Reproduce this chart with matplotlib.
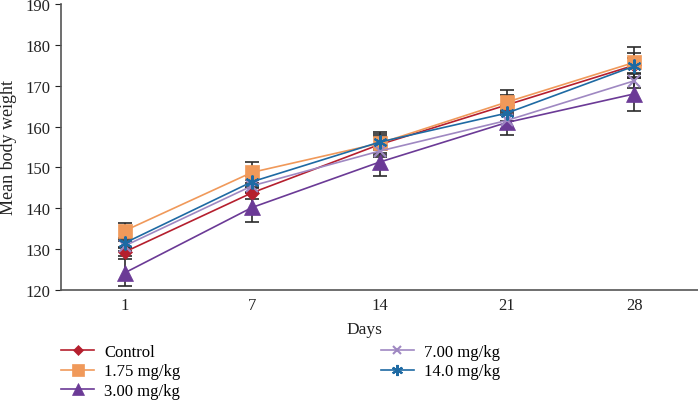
import matplotlib.pyplot as plt
import numpy as np

plt.rcParams['font.family'] = ['Liberation Serif', 'DejaVu Serif']

days = ['1', '7', '14', '21', '28']
labels = ['Control', '1.75 mg/kg', '3.00 mg/kg', '7.00 mg/kg', '14.0 mg/kg']

control = [129.3, 143.8, 155.6, 165.3, 175.0]
dose_175 = [134.5, 148.8, 155.9, 166.0, 175.7]
dose_300 = [124.2, 140.2, 151.3, 161.0, 168.0]
dose_700 = [130.8, 145.5, 154.0, 161.5, 171.2]
dose_140 = [131.5, 146.5, 156.2, 163.3, 174.8]

err_control = [1.0, 1.5, 2.0, 2.5, 3.0]
err_175 = [1.8, 2.5, 2.8, 2.9, 3.7]
err_300 = [3.3, 3.5, 3.3, 3.1, 4.2]
err_700 = [1.2, 1.5, 1.5, 2.0, 1.8]
err_140 = [1.0, 1.5, 2.0, 2.0, 2.0]

series = [control, dose_175, dose_300, dose_700, dose_140]
errors = [err_control, err_175, err_300, err_700, err_140]
colors = ['#b51f2e', '#f0995a', '#6b3a96', '#9f88c2', '#1e6aa3']
markers = ['D', 's', '^', 'x', (6, 2, 0)]
msizes = [7, 10, 11, 8, 10]

fig = plt.figure(figsize=(6.98, 4.02), dpi=100)
ax = fig.add_axes([0.0874, 0.2761, 0.9126, 0.7115])

x = np.arange(len(days))
for y, e, c, m, s, lab in zip(series, errors, colors, markers, msizes, labels):
    ax.errorbar(x, y, yerr=e, fmt='none', ecolor='#2b2b2b', elinewidth=1.2,
                capsize=5, capthick=1.2, zorder=2)
    ax.plot(x, y, color=c, marker=m, markersize=s, linewidth=1.2,
            markeredgewidth=1.5 if m in ('x', (6, 2, 0)) else 0.5,
            label=lab, zorder=3)

ax.set_xlim(-0.5, 4.5)
ax.set_ylim(120, 190)
ax.set_yticks(range(120, 191, 10))
ax.set_xticks(x)
ax.set_xticklabels(days)
ax.tick_params(axis='x', length=0, labelsize=12, pad=5, colors='#222222')
ax.tick_params(axis='y', length=4, labelsize=12, colors='#222222', direction='out')
for side in ['top', 'right']:
    ax.spines[side].set_visible(False)
for side in ['left', 'bottom']:
    ax.spines[side].set_color('#555555')
    ax.spines[side].set_linewidth(1.2)

ax.set_ylabel('Mean body weight', fontsize=13, color='#222222', labelpad=6)
fig.text(0.5215, 0.178, 'Days', fontsize=12.5, color='#222222', ha='center', va='center')

fig.legend(loc='upper left', bbox_to_anchor=(0.078, 0.158), ncol=2,
           frameon=False, fontsize=12, handlelength=2.0, handletextpad=0.6,
           columnspacing=12.0, labelspacing=0.2, borderaxespad=0, markerscale=0.8)

fig.savefig('out.png', dpi=100)
